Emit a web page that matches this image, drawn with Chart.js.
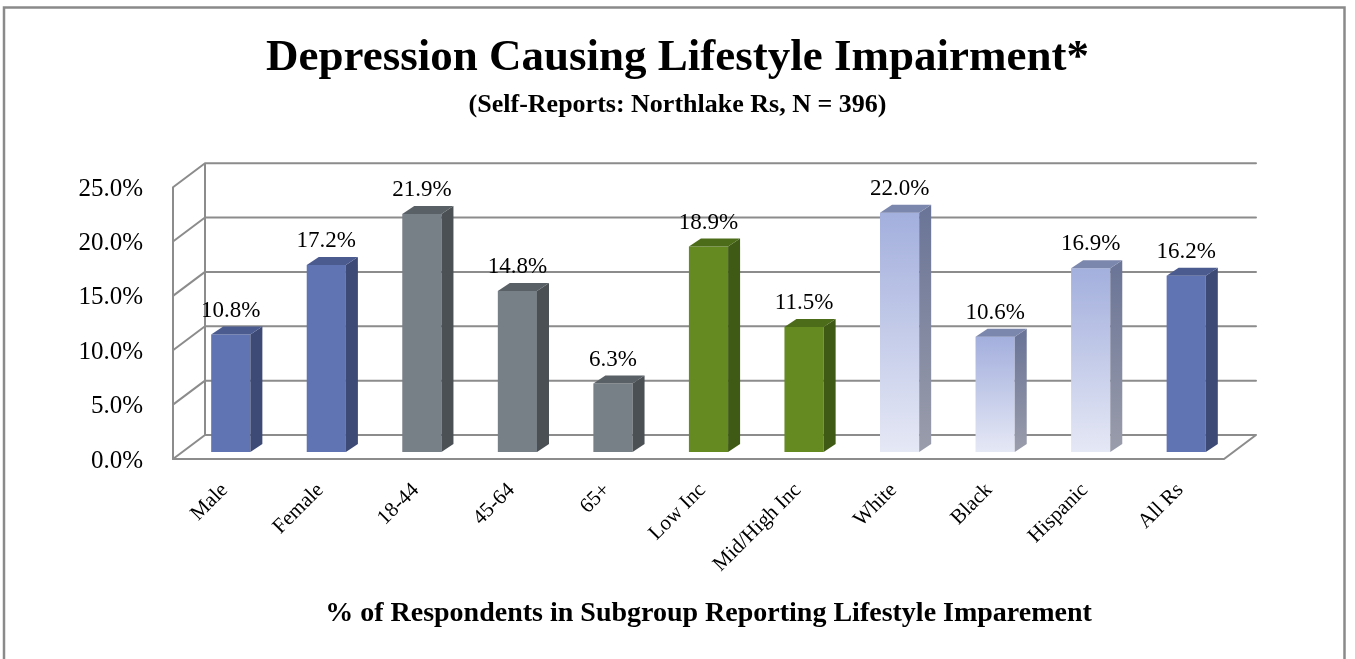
<!DOCTYPE html>
<html lang="en">
<head>
    <meta charset="UTF-8">
    <title>Depression Causing Lifestyle Impairment</title>
    <script src="https://cdn.jsdelivr.net/npm/chart.js"></script>
    <style>
        body {
            margin: 0;
            background: #ffffff;
        }
        canvas {
            display: block;
        }
    </style>
</head>
<body>
    <canvas id="myChart" width="1355" height="659"></canvas>

    <script>
        // data
        var categories = ['Male', 'Female', '18-44', '45-64', '65+', 'Low Inc', 'Mid/High Inc', 'White', 'Black', 'Hispanic', 'All Rs'];
        var percents = [10.8, 17.2, 21.9, 14.8, 6.3, 18.9, 11.5, 22.0, 10.6, 16.9, 16.2];
        var subgroups = ['Gender', 'Gender', 'Age', 'Age', 'Age', 'Income', 'Income', 'Race', 'Race', 'Race', 'All'];
        var yTicks = [0, 5, 10, 15, 20, 25];

        // colours of each face, per subgroup
        var palette = {
            Gender: { front: '#6074b3', side: '#3d4a75', top: '#4b5b90' },
            All:    { front: '#6074b3', side: '#3d4a75', top: '#4b5b90' },
            Age:    { front: '#777f87', side: '#4a5054', top: '#5a6166' },
            Income: { front: '#668a22', side: '#3f5a14', top: '#4d6c1a' },
            Race:   { front: ['#a3afdd', '#e5e8f5'], side: ['#6b7597', '#9a9dab'], top: '#7c87ae' }
        };

        var serif = "'Liberation Serif', 'Times New Roman', serif";
        var lineGray = '#8c8c8c';

        // depth offsets, relative to the plane the bars stand on
        var backDx = 22, backDy = -17;   // back wall
        var frontDx = -10, frontDy = 7;  // front edge of the floor
        var barDx = 12, barDy = -8;      // depth of a bar

        function fillFor(ctx, spec, yTop, yBottom) {
            if (typeof spec === 'string') return spec;
            var g = ctx.createLinearGradient(0, yTop, 0, yBottom);
            g.addColorStop(0, spec[0]);
            g.addColorStop(1, spec[1]);
            return g;
        }

        var boxPlugin = {
            id: 'box3d',
            beforeDraw: function(chart) {
                var ctx = chart.ctx;
                ctx.save();
                ctx.fillStyle = '#ffffff';
                ctx.fillRect(0, 0, chart.width, chart.height);
                ctx.strokeStyle = '#8a8a8a';
                ctx.lineWidth = 2.5;
                ctx.strokeRect(4, 7.5, 1340.5, chart.height + 20);
                ctx.restore();
            },
            beforeDatasetsDraw: function(chart) {
                var ctx = chart.ctx;
                var area = chart.chartArea;
                var y = chart.scales.y;
                var fl = area.left + frontDx, fr = area.right + frontDx;
                var bl = area.left + backDx, br = area.right + backDx;
                ctx.save();
                ctx.strokeStyle = lineGray;
                ctx.lineWidth = 2;
                ctx.lineCap = 'round';
                ctx.beginPath();
                yTicks.forEach(function(t) {
                    var py = y.getPixelForValue(t);
                    // back wall line and side diagonal
                    ctx.moveTo(bl, py + backDy);
                    ctx.lineTo(br, py + backDy);
                    ctx.moveTo(fl, py + frontDy);
                    ctx.lineTo(bl, py + backDy);
                });
                var top = y.getPixelForValue(25), zero = y.getPixelForValue(0);
                // wall edge, front axis, floor front and right edges
                ctx.moveTo(bl, top + backDy);
                ctx.lineTo(bl, zero + backDy);
                ctx.moveTo(fl, top + frontDy);
                ctx.lineTo(fl, zero + frontDy);
                ctx.lineTo(fr, zero + frontDy);
                ctx.lineTo(br, zero + backDy);
                ctx.stroke();
                ctx.restore();
            },
            afterDatasetsDraw: function(chart) {
                var ctx = chart.ctx;
                var meta = chart.getDatasetMeta(0);
                ctx.save();
                meta.data.forEach(function(bar, i) {
                    var p = bar.getProps(['x', 'y', 'base', 'width'], true);
                    var l = p.x - p.width / 2, r = p.x + p.width / 2;
                    var col = palette[subgroups[i]];
                    // side face
                    ctx.fillStyle = fillFor(ctx, col.side, p.y, p.base);
                    ctx.beginPath();
                    ctx.moveTo(r, p.y);
                    ctx.lineTo(r + barDx, p.y + barDy);
                    ctx.lineTo(r + barDx, p.base + barDy);
                    ctx.lineTo(r, p.base);
                    ctx.closePath();
                    ctx.fill();
                    // top face
                    ctx.fillStyle = col.top;
                    ctx.beginPath();
                    ctx.moveTo(l, p.y);
                    ctx.lineTo(l + barDx, p.y + barDy);
                    ctx.lineTo(r + barDx, p.y + barDy);
                    ctx.lineTo(r, p.y);
                    ctx.closePath();
                    ctx.fill();
                    // value label
                    ctx.fillStyle = '#000000';
                    ctx.font = '23px ' + serif;
                    ctx.textAlign = 'center';
                    ctx.textBaseline = 'alphabetic';
                    ctx.fillText(percents[i].toFixed(1) + '%', p.x, p.y + barDy - 10);
                });
                ctx.restore();
            }
        };

        var ctx = document.getElementById('myChart').getContext('2d');
        var myChart = new Chart(ctx, {
            type: 'bar',
            data: {
                labels: categories,
                datasets: [{
                    data: percents,
                    borderWidth: 0,
                    barPercentage: 0.41,
                    categoryPercentage: 1,
                    backgroundColor: function(c) {
                        var col = palette[subgroups[c.dataIndex]];
                        var chart = c.chart;
                        if (!chart.chartArea || typeof col.front === 'string') return col.front;
                        var ys = chart.scales.y;
                        return fillFor(chart.ctx, col.front, ys.getPixelForValue(percents[c.dataIndex]), ys.getPixelForValue(0));
                    }
                }]
            },
            options: {
                responsive: false,
                animation: false,
                layout: {
                    padding: 0
                },
                plugins: {
                    legend: { display: false },
                    tooltip: { enabled: false },
                    title: {
                        display: true,
                        text: 'Depression Causing Lifestyle Impairment*',
                        color: '#000000',
                        font: { family: serif, size: 45, weight: 'bold' },
                        padding: { top: 31, bottom: 0 }
                    },
                    subtitle: {
                        display: true,
                        text: '(Self-Reports: Northlake Rs, N = 396)',
                        color: '#000000',
                        font: { family: serif, size: 26, weight: 'bold' },
                        padding: { top: 5, bottom: 59 }
                    }
                },
                scales: {
                    x: {
                        grid: { display: false },
                        border: { display: false },
                        ticks: {
                            color: '#000000',
                            font: { family: serif, size: 21 },
                            minRotation: 45,
                            maxRotation: 45,
                            autoSkip: false,
                            padding: 18,
                            labelOffset: -6
                        },
                        title: {
                            display: true,
                            text: '% of Respondents in Subgroup Reporting Lifestyle Imparement',
                            color: '#000000',
                            font: { family: serif, size: 28, weight: 'bold' },
                            padding: { top: 0, bottom: 28 }
                        },
                        afterFit: function(scale) { scale.height = 207; }
                    },
                    y: {
                        min: 0,
                        max: 25,
                        grid: { display: false, drawTicks: false },
                        border: { display: false },
                        ticks: {
                            stepSize: 5,
                            color: '#000000',
                            font: { family: serif, size: 25 },
                            padding: 40,
                            labelOffset: 9,
                            callback: function(v) { return v.toFixed(1) + '%'; }
                        },
                        afterFit: function(scale) { scale.width = 183; }
                    },
                    // empty right-hand margin, keeps the titles centred on the whole page
                    margin: {
                        type: 'linear',
                        position: 'right',
                        display: true,
                        grid: { display: false },
                        border: { display: false },
                        ticks: { display: false },
                        afterFit: function(scale) { scale.width = 121; }
                    }
                }
            },
            plugins: [boxPlugin]
        });
    </script>
</body>
</html>
